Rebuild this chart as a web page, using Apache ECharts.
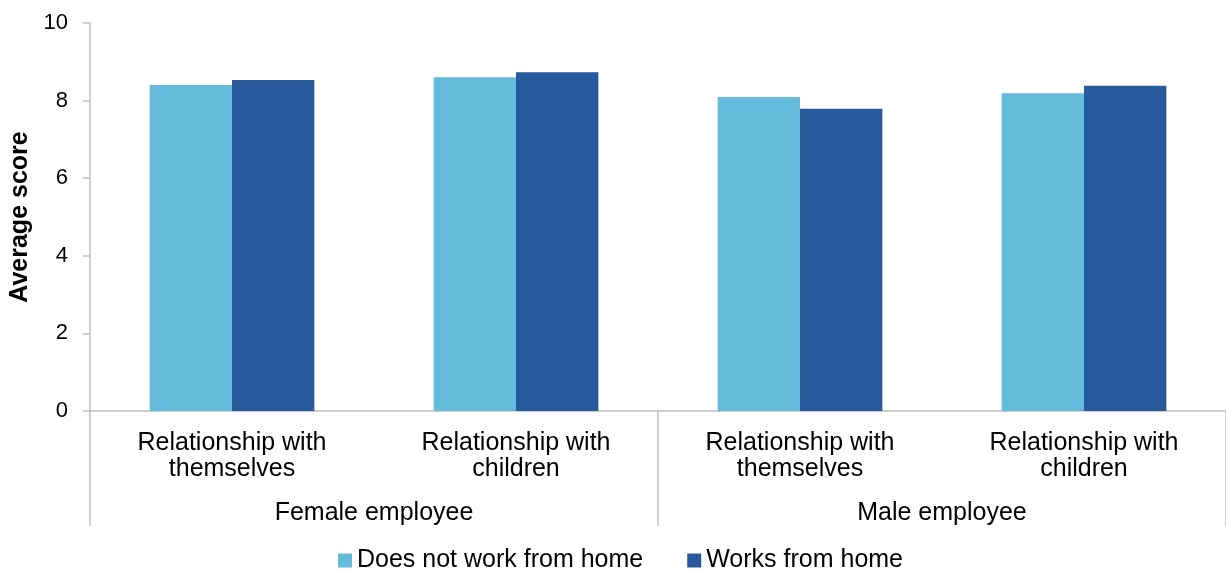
<!DOCTYPE html>
<html>
<head>
<meta charset="utf-8">
<script src="https://cdn.jsdelivr.net/npm/echarts@6/dist/echarts.min.js"></script>
<style>html,body{margin:0;padding:0;background:#fff;}#c{width:1226px;height:571px;}</style>
</head>
<body>
<div id="c"></div>
<script>
const categories = ['Relationship with\nthemselves', 'Relationship with\nchildren', 'Relationship with\nthemselves', 'Relationship with\nchildren'];
const groups = ['Female employee', 'Male employee'];
const seriesNames = ['Does not work from home', 'Works from home'];
const notFromHome = [8.40, 8.60, 8.09, 8.19];
const fromHome = [8.53, 8.73, 7.79, 8.38];
const yTicks = { min: 0, max: 10, interval: 2 };

const FONT = '"Liberation Sans", Arial, sans-serif';
const chart = echarts.init(document.getElementById('c'));
chart.setOption({
  animation: false,
  textStyle: { fontFamily: FONT },
  grid: { left: 90, right: 0, top: 23, bottom: 160, outerBoundsMode: 'none', containLabel: false },
  legend: {
    top: 548, left: 338, padding: 0,
    itemWidth: 14, itemHeight: 14, itemGap: 44,
    icon: 'rect',
    textStyle: { fontSize: 25, color: '#000', fontFamily: FONT },
    data: seriesNames
  },
  xAxis: [
    {
      type: 'category', data: categories, position: 'bottom',
      axisLine: { lineStyle: { color: '#bfbfbf', width: 1.5 } },
      axisTick: { show: false },
      axisLabel: { color: '#000', fontSize: 25, lineHeight: 26, margin: 19, interval: 0, fontFamily: FONT }
    },
    {
      type: 'category', data: groups, position: 'bottom', gridIndex: 0,
      axisLine: { show: false },
      axisTick: { show: true, length: 115, interval: 0, lineStyle: { color: '#bfbfbf', width: 1.5 } },
      axisLabel: { color: '#000', fontSize: 25, margin: 90, interval: 0, fontFamily: FONT }
    }
  ],
  yAxis: {
    type: 'value', min: yTicks.min, max: yTicks.max, interval: yTicks.interval,
    name: 'Average score', nameLocation: 'middle', nameGap: 56,
    nameTextStyle: { fontSize: 25, fontWeight: 'bold', color: '#000', fontFamily: FONT },
    axisLine: { show: true, lineStyle: { color: '#bfbfbf', width: 1.5 } },
    axisTick: { show: true, length: 7, lineStyle: { color: '#bfbfbf', width: 1.5 } },
    axisLabel: { color: '#000', fontSize: 22, margin: 22, fontFamily: FONT },
    splitLine: { show: false }
  },
  series: [
    { name: seriesNames[0], type: 'bar', data: notFromHome, barGap: '0%', barCategoryGap: '42%', itemStyle: { color: '#65BBDA' } },
    { name: seriesNames[1], type: 'bar', data: fromHome, barGap: '0%', barCategoryGap: '42%', itemStyle: { color: '#265A9A' } }
  ]
});
</script>
</body>
</html>
